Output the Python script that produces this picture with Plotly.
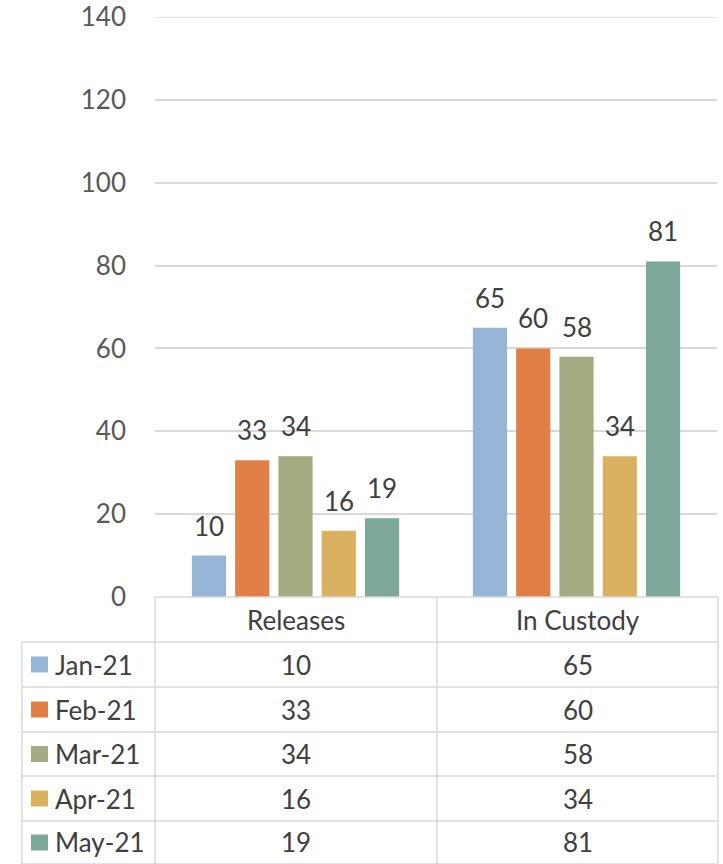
import plotly.graph_objects as go

categories = ["Releases", "In Custody"]
months = ["Jan-21", "Feb-21", "Mar-21", "Apr-21", "May-21"]
values = {
    "Jan-21": [10, 65],
    "Feb-21": [33, 60],
    "Mar-21": [34, 58],
    "Apr-21": [16, 34],
    "May-21": [19, 81],
}
colors = ["#95B6D6", "#E08046", "#A4AB80", "#DAB160", "#7CA79A"]
y_ticks = [0, 20, 40, 60, 80, 100, 120, 140]

W, H = 723, 864
L, R_EDGE, T, B_EDGE = 155, 717, 17, 597
FONT = "Lato"
FS = 26
TXT = "#404040"
GRID = "#D9D9D9"
BARGAP, GROUPGAP = 0.23, 0.21

def px(x):
    return (x - L) / (R_EDGE - L)

def py(y):
    return (B_EDGE - y) / (B_EDGE - T)

fig = go.Figure()
annotations = []
n = len(months)
slot = (1 - BARGAP) / n
for k, (m, c) in enumerate(zip(months, colors)):
    fig.add_trace(go.Bar(
        x=list(range(len(categories))), y=values[m], name=m,
        marker=dict(color=c, line=dict(width=0)),
    ))
    for i, v in enumerate(values[m]):
        annotations.append(dict(xref="x", yref="y", x=i + (k - (n - 1) / 2) * slot, y=v,
                                text=str(v), showarrow=False, yanchor="bottom", yshift=12,
                                font=dict(family=FONT, size=FS, color=TXT)))

shapes = []
line = dict(color=GRID, width=1.5)
# top gridline at the axis maximum (plotly omits gridlines on the plot edge)
shapes.append(dict(type="line", xref="paper", yref="y", x0=0, x1=1, y0=y_ticks[-1], y1=y_ticks[-1],
                   line=line, layer="below"))
col_x = [22, 155, 437, 718]
row_y = [597, 642, 687, 732, 776, 821, 864]
shapes.append(dict(type="line", xref="paper", yref="paper", x0=px(col_x[1]), x1=px(col_x[3]),
                   y0=py(row_y[0]), y1=py(row_y[0]), line=line))
for yy in row_y[1:]:
    shapes.append(dict(type="line", xref="paper", yref="paper", x0=px(col_x[0]), x1=px(col_x[3]),
                       y0=py(yy), y1=py(yy), line=line))
shapes.append(dict(type="line", xref="paper", yref="paper", x0=px(col_x[0]), x1=px(col_x[0]),
                   y0=py(row_y[1]), y1=py(row_y[-1]), line=line))
for xx in col_x[1:]:
    shapes.append(dict(type="line", xref="paper", yref="paper", x0=px(xx), x1=px(xx),
                       y0=py(row_y[0]), y1=py(row_y[-1]), line=line))

for j, cat in enumerate(categories):
    annotations.append(dict(xref="paper", yref="paper", x=px((col_x[j+1] + col_x[j+2]) / 2),
                            y=py((row_y[0] + row_y[1]) / 2), text=cat, showarrow=False,
                            font=dict(family=FONT, size=FS, color=TXT), xanchor="center", yanchor="middle"))
for i, (m, c) in enumerate(zip(months, colors)):
    yc = (row_y[i+1] + row_y[i+2]) / 2
    shapes.append(dict(type="rect", xref="paper", yref="paper", x0=px(31), x1=px(48),
                       y0=py(yc + 8), y1=py(yc - 8), fillcolor=c, line=dict(width=0)))
    annotations.append(dict(xref="paper", yref="paper", x=px(53), y=py(yc), text=m, showarrow=False,
                            font=dict(family=FONT, size=FS, color=TXT), xanchor="left", yanchor="middle"))
    for j in range(len(categories)):
        annotations.append(dict(xref="paper", yref="paper", x=px((col_x[j+1] + col_x[j+2]) / 2),
                                y=py(yc), text=str(values[m][j]), showarrow=False,
                                font=dict(family=FONT, size=FS, color=TXT), xanchor="center", yanchor="middle"))

fig.update_layout(
    width=W, height=H,
    margin=dict(l=L, r=W - R_EDGE, t=T, b=H - B_EDGE, pad=0, autoexpand=False),
    paper_bgcolor="white", plot_bgcolor="white",
    barmode="group", bargap=BARGAP, bargroupgap=GROUPGAP,
    showlegend=False,
    xaxis=dict(range=[-0.5, len(categories) - 0.5], showticklabels=False, showgrid=False,
               zeroline=False, showline=False, ticks="", automargin=False),
    yaxis=dict(range=[0, 140], tickvals=y_ticks, showgrid=True, gridcolor=GRID, gridwidth=1.5,
               zeroline=False, showline=False, ticks="", automargin=False,
               tickfont=dict(family=FONT, size=FS, color="#595959"), ticklabelstandoff=28),
    shapes=shapes, annotations=annotations,
    font=dict(family=FONT),
)
fig.write_html("out.html", config={"displayModeBar": False},
               post_script="document.body.style.margin='0';document.body.style.overflow='hidden';")
